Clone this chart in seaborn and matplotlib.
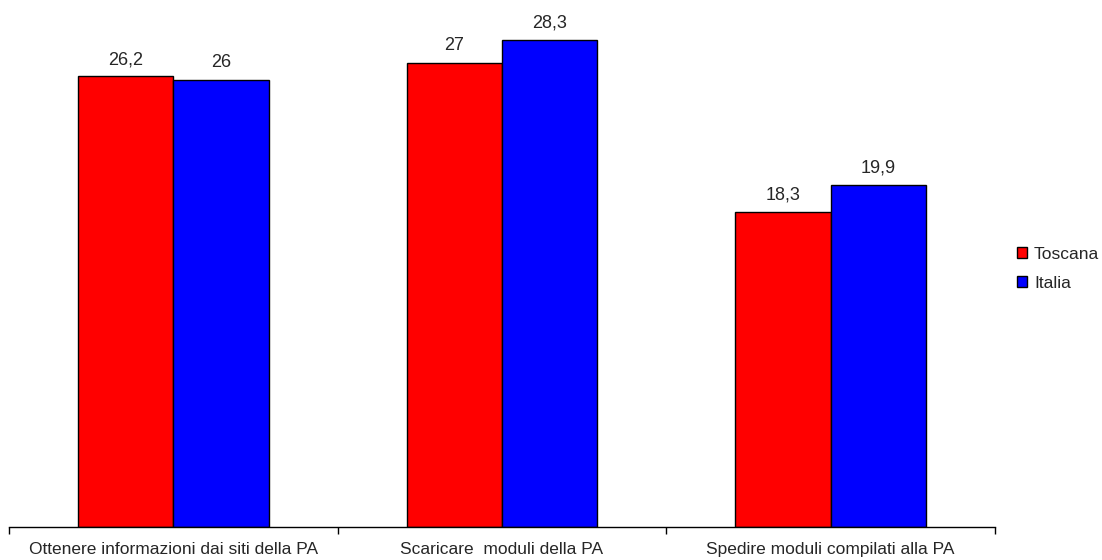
import pandas as pd
import matplotlib
matplotlib.use("Agg")
import matplotlib.pyplot as plt
import seaborn as sns

# Data
categories = ["Ottenere informazioni dai siti della PA",
              "Scaricare  moduli della PA",
              "Spedire moduli compilati alla PA"]
toscana = [26.2, 27.0, 18.3]
italia = [26.0, 28.3, 19.9]
series_names = ["Toscana", "Italia"]
value_labels = {"Toscana": ["26,2", "27", "18,3"],
                "Italia": ["26", "28,3", "19,9"]}

df = pd.DataFrame({
    "categoria": categories * 2,
    "valore": toscana + italia,
    "serie": [series_names[0]] * 3 + [series_names[1]] * 3,
})

sns.set_style("white")
plt.rcParams["font.family"] = ["Liberation Sans", "DejaVu Sans"]

fig = plt.figure(figsize=(11.02, 5.6), dpi=100)
ax = fig.add_axes([9 / 1102, 33 / 560, (995 - 9) / 1102, (527 - 11) / 560])

sns.barplot(data=df, x="categoria", y="valore", hue="serie",
            palette=["#FF0000", "#0000FF"], width=0.58,
            edgecolor="black", linewidth=1, saturation=1, ax=ax)

for cont, name in zip(ax.containers, series_names):
    ax.bar_label(cont, labels=value_labels[name], padding=6, fontsize=13)

ax.set_xlim(-0.5, 2.5)
ax.set_ylim(0, 30)
ax.set_xlabel("")
ax.set_ylabel("")
ax.set_yticks([])
for s in ["left", "right", "top"]:
    ax.spines[s].set_visible(False)
ax.spines["bottom"].set_color("black")
ax.spines["bottom"].set_linewidth(1)

ax.set_xticks([-0.5, 0.5, 1.5, 2.5], minor=True)
ax.tick_params(axis="x", which="minor", length=5, width=1, color="black", bottom=True)
ax.tick_params(axis="x", which="major", length=0, pad=11, labelsize=12.5)

sns.move_legend(ax, "center left", bbox_to_anchor=(1001 / 1102, 1 - 269 / 560),
                bbox_transform=fig.transFigure, frameon=False, title=None,
                fontsize=12.5, handlelength=0.6, handleheight=0.6,
                handletextpad=0.4, labelspacing=0.8)

fig.savefig("out.png", dpi=100)
